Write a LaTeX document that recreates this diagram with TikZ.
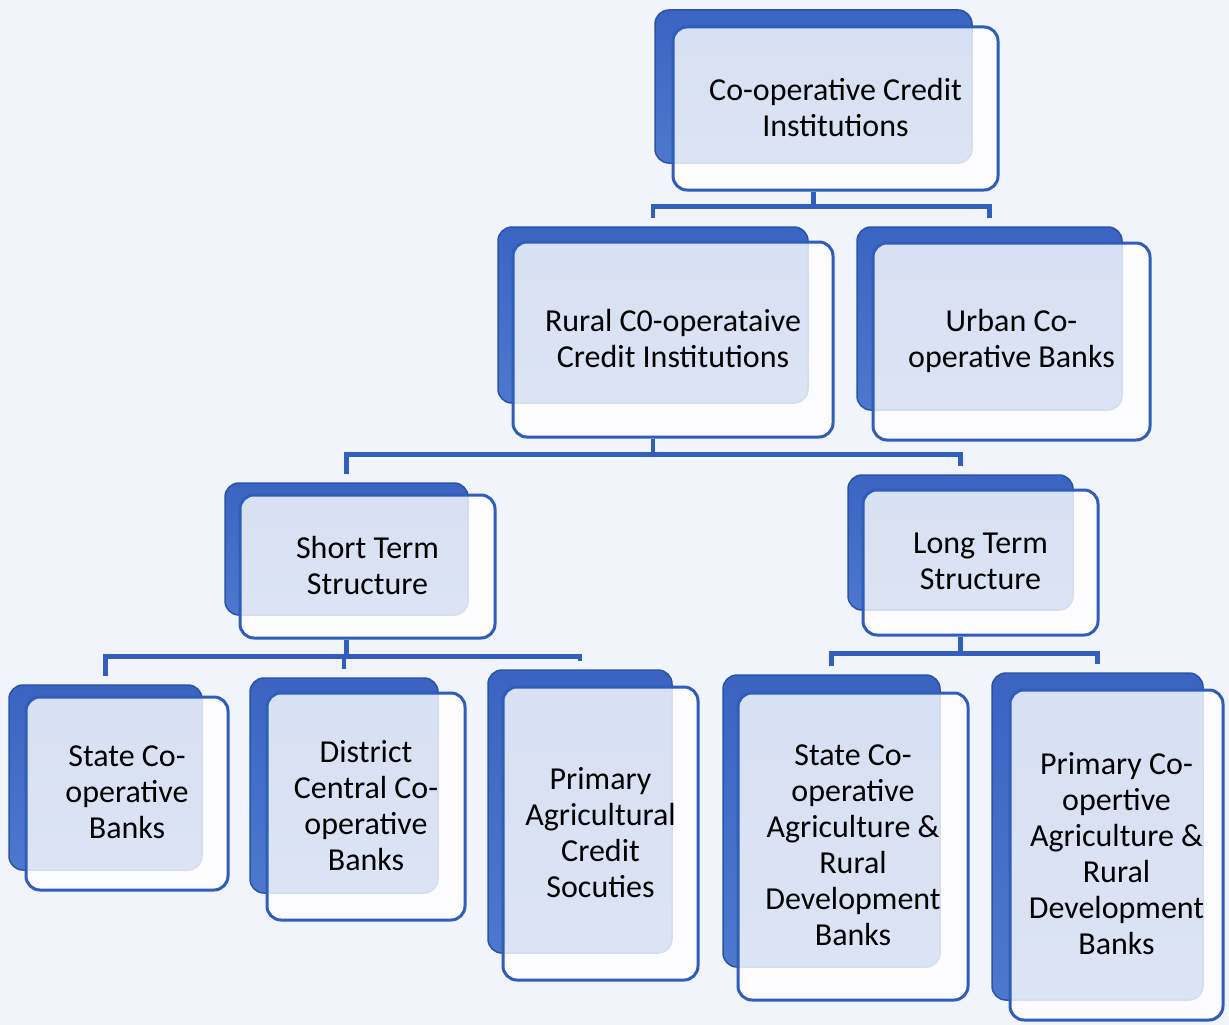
\documentclass[tikz,border=0pt]{standalone}
\usepackage{fontspec}
\setmainfont{Carlito}
\usetikzlibrary{fit}
\definecolor{bgc}{HTML}{F1F4FA}
\definecolor{backtop}{HTML}{3B64C2}
\definecolor{backbot}{HTML}{4E78CD}
\definecolor{backdraw}{HTML}{2A52AA}
\definecolor{frontdraw}{HTML}{2F5DBB}
\definecolor{connc}{HTML}{325FBD}
\tikzset{
  backbox/.style={draw=backdraw, line width=1.5pt, top color=backtop, bottom color=backbot,
    rounded corners=14pt, inner sep=0pt},
  frontbox/.style={draw=frontdraw, line width=3pt, fill=white, fill opacity=0.8,
    rounded corners=14pt, inner sep=0pt},
  lbl/.style={align=center, text=black, inner sep=0pt,
    font=\fontsize{32}{36}\selectfont},
  conn/.style={draw=connc, line width=4.5pt, shorten >=8pt}
}
\newcommand\lblat[3]{\node[lbl] (#1T) at ([yshift=1pt]#1.center) {#2#3};}
\begin{document}
\begin{tikzpicture}[x=1pt,y=-1pt]
\useasboundingbox (0,0) rectangle (1229,1025);
\fill[bgc] (0,0) rectangle (1229,1025);
% level 1
\node[backbox, fit={(655,10) (972,163)}] (topB) {};
\node[frontbox, fit={(673,27) (998,190)}] (top) {};
\lblat{top}{Co-operative Credit\\Institutions}{}
% level 2
\node[backbox, fit={(498,227) (808,403)}] (ruralB) {};
\node[frontbox, fit={(513,242) (833,437)}] (rural) {};
\lblat{rural}{Rural C0-operataive\\Credit Institutions}{}
\node[backbox, fit={(857,227) (1122,410)}] (urbanB) {};
\node[frontbox, fit={(873,243) (1150,440)}] (urban) {};
\lblat{urban}{Urban Co-\\operative Banks}{}
% level 3
\node[backbox, fit={(225,483) (468,615)}] (shortB) {};
\node[frontbox, fit={(240,495) (495,638)}] (short) {};
\lblat{short}{Short Term\\Structure}{}
\node[backbox, fit={(848,475) (1073,610)}] (longB) {};
\node[frontbox, fit={(863,490) (1098,635)}] (long) {};
\lblat{long}{Long Term\\Structure}{}
% level 4
\node[backbox, fit={(9,685) (202,870)}] (scbB) {};
\node[frontbox, fit={(26,697) (228,890)}] (scb) {};
\lblat{scb}{State Co-\\operative\\Banks}{}
\node[backbox, fit={(250,678) (438,893)}] (dccbB) {};
\node[frontbox, fit={(267,693) (465,920)}] (dccb) {};
\lblat{dccb}{District\\Central Co-\\operative\\Banks}{}
\node[backbox, fit={(488,670) (672,953)}] (pacsB) {};
\node[frontbox, fit={(503,687) (698,980)}] (pacs) {};
\lblat{pacs}{Primary\\Agricultural\\Credit\\Socuties}{}
\node[backbox, fit={(723,675) (940,967)}] (scardB) {};
\node[frontbox, fit={(738,693) (968,1000)}] (scard) {};
\lblat{scard}{State Co-\\operative\\Agriculture \&\\Rural\\Development\\Banks}{}
\node[backbox, fit={(992,673) (1203,1000)}] (pcardB) {};
\node[frontbox, fit={(1010,690) (1223,1020)}] (pcard) {};
\lblat{pcard}{Primary Co-\\opertive\\Agriculture \&\\Rural\\Development\\Banks}{}
% connectors
\draw[conn] (topB.center |- top.south) -- ++(0,15) -| (ruralB.north);
\draw[conn] (topB.center |- top.south) -- ++(0,15) -| (urbanB.north);
\draw[conn] (ruralB.center |- rural.south) -- ++(0,16) -| (shortB.north);
\draw[conn] (ruralB.center |- rural.south) -- ++(0,16) -| (longB.north);
\draw[conn] (shortB.center |- short.south) -- ++(0,17) -| (scbB.north);
\draw[conn] (shortB.center |- short.south) -- ++(0,17) -| (dccbB.north);
\draw[conn] (shortB.center |- short.south) -- ++(0,17) -| (pacsB.north);
\draw[conn] (longB.center |- long.south) -- ++(0,17) -| (scardB.north);
\draw[conn] (longB.center |- long.south) -- ++(0,17) -| (pcardB.north);
\end{tikzpicture}
\end{document}
